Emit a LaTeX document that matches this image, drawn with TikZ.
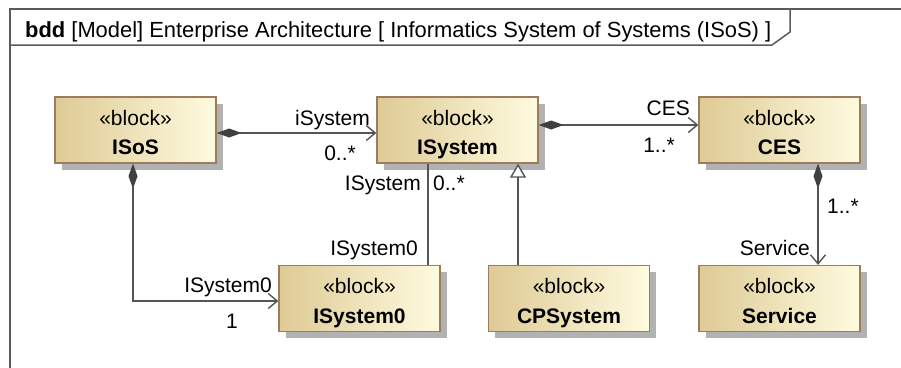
\documentclass[tikz,border=0pt]{standalone}
\usepackage{fontspec}
\setmainfont{Liberation Sans}
\usetikzlibrary{arrows.meta,shadows,calc}
\definecolor{lnc}{HTML}{555555}
\definecolor{dkc}{HTML}{404040}
\definecolor{framec}{HTML}{5A5A5A}
\definecolor{bordc}{HTML}{9C7C5C}
\definecolor{tanL}{HTML}{DECA95}
\definecolor{tanR}{HTML}{FFFBDF}
\definecolor{shadc}{HTML}{B2B2B2}
\newcommand\myblock[4]{%
  \node[blk] (#1) at (#2,#3) {};
  \node[txt, anchor=base] (#1s) at ($(#1.center)+(0,-5)$) {«block»};
  \node[txt, anchor=base, font=\fontsize{21}{25}\selectfont\bfseries] (#1n) at ($(#1.center)+(0,24.5)$) {#4};}
\begin{document}
\begin{tikzpicture}[x=1pt,y=-1pt,
  blk/.style={draw=bordc, line width=1.3pt, left color=tanL, right color=tanR,
    minimum width=161pt, minimum height=66pt, inner sep=0pt,
    drop shadow={shadow xshift=6.5pt, shadow yshift=-6.5pt, fill=shadc, opacity=1}},
  txt/.style={inner sep=0pt, font=\fontsize{21}{25}\selectfont},
  conn/.style={draw=lnc, line width=1.4pt},
  comp/.style={conn, {Diamond[length=25pt,width=9pt,color=dkc,fill=dkc]}-{Straight Barb[length=9pt,width=15pt]}},
  gen/.style={conn, -{Triangle[open,length=14pt,width=16pt,fill=white]}}
]
\useasboundingbox (0,0) rectangle (901,367);
% frame
\coordinate (fbl) at (10,380);
\coordinate (ftl) at (10,9);
\coordinate (ftr) at (910,9);
\coordinate (tb1) at (10,45);
\coordinate (tb2) at (772,45);
\coordinate (tb3) at (790,32);
\coordinate (tb4) at (790,9);
\draw[framec, line width=1.5pt] (fbl) -- (ftl) -- (ftr);
\draw[framec, line width=1.5pt] (tb1) -- (tb2) -- (tb3) -- (tb4);
\node[txt, anchor=base west, font=\fontsize{21.9}{25}\selectfont] (title) at (25,37) {\textbf{bdd} [Model] Enterprise Architecture [ Informatics System of Systems (ISoS) ]};

% blocks
\myblock{isos}{135.5}{130}{ISoS}
\myblock{isys}{457.5}{130}{ISystem}
\myblock{ces}{779.5}{130}{CES}
\myblock{isys0}{359.5}{298.5}{ISystem0}
\myblock{cps}{569}{298.5}{CPSystem}
\myblock{serv}{779.5}{298.5}{Service}

% helper coordinates
\coordinate (r1) at (0,133);
\coordinate (r2) at (0,125);
\coordinate (v1) at (428,0);
\coordinate (v2) at (518,0);
\coordinate (v3) at (818,0);
\coordinate (v4) at (133,0);
\coordinate (r3) at (0,301);

% connectors
\draw[comp] (isos.east |- r1) -- (isys.west |- r1);
\draw[comp] (isys.east |- r2) -- (ces.west |- r2);
\draw[conn] (isys.south -| v1) -- (isys0.north -| v1);
\draw[gen] (cps.north -| v2) -- (isys.south -| v2);
\draw[comp] (ces.south -| v3) -- (serv.north -| v3);
\draw[comp] (isos.south -| v4) |- (isys0.west |- r3);

% labels
\node[txt, anchor=base east] (l1) at (370,125) {iSystem};
\node[txt, anchor=base east] (l2) at (356,160) {0..*};
\node[txt, anchor=base east] (l3) at (690,115) {CES};
\node[txt, anchor=base east] (l4) at (675,152) {1..*};
\node[txt, anchor=base east] (l5) at (421,190) {ISystem};
\node[txt, anchor=base west] (l6) at (433,190) {0..*};
\node[txt, anchor=base east] (l7) at (418,255) {ISystem0};
\node[txt, anchor=base east] (l8) at (272,292) {ISystem0};
\node[txt, anchor=base west] (l9) at (226,328) {1};
\node[txt, anchor=base west] (l10) at (827,213) {1..*};
\node[txt, anchor=base east] (l11) at (810,255) {Service};
\end{tikzpicture}
\end{document}
